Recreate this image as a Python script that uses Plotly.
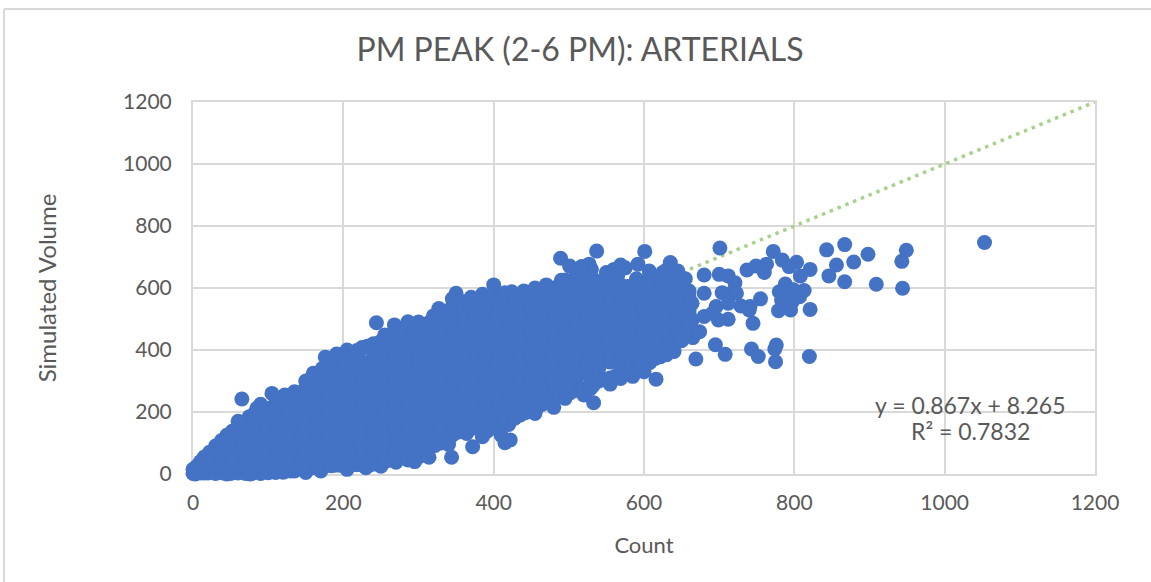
import plotly.graph_objects as go

# Dense cloud (Count value -> Simulated Volume values)
count_columns = [0, 15, 30, 45, 60, 75, 90, 105, 120, 135, 150, 165, 180, 195, 210, 225, 240, 255, 270, 285,
                 300, 315, 330, 345, 360, 375, 390, 405, 420, 435, 450, 465, 480, 495, 510, 525, 540, 555,
                 570, 585, 600, 615, 630, 645, 660]
volume_columns = [
    [2, 15],
    [3, 30, 55],
    [5, 45, 90],
    [3, 40, 78, 125],
    [5, 38, 76, 114, 150],
    [4, 38, 76, 114, 152, 185],
    [5, 38, 76, 114, 152, 190, 205],
    [8, 19, 57, 95, 133, 171, 215],
    [6, 38, 76, 114, 152, 190, 235],
    [10, 19, 57, 95, 133, 171, 209, 250],
    [18, 38, 76, 114, 152, 190, 228, 280],
    [20, 57, 95, 133, 171, 209, 247, 285, 320],
    [28, 38, 76, 114, 152, 190, 228, 266, 304, 355],
    [28, 57, 95, 133, 171, 209, 247, 285, 323, 375],
    [30, 38, 76, 114, 152, 190, 228, 266, 304, 342, 390],
    [30, 57, 95, 133, 171, 209, 247, 285, 323, 361, 405],
    [32, 38, 76, 114, 152, 190, 228, 266, 304, 342, 380, 420],
    [40, 57, 95, 133, 171, 209, 247, 285, 323, 361, 399, 430],
    [50, 76, 114, 152, 190, 228, 266, 304, 342, 380, 418, 445],
    [62, 95, 133, 171, 209, 247, 285, 323, 361, 399, 437, 460],
    [80, 114, 152, 190, 228, 266, 304, 342, 380, 418, 456, 475],
    [85, 95, 133, 171, 209, 247, 285, 323, 361, 399, 437, 475, 490],
    [100, 114, 152, 190, 228, 266, 304, 342, 380, 418, 456, 494, 510],
    [125, 133, 171, 209, 247, 285, 323, 361, 399, 437, 475, 513, 540],
    [145, 152, 190, 228, 266, 304, 342, 380, 418, 456, 494, 532, 555],
    [148, 171, 209, 247, 285, 323, 361, 399, 437, 475, 513, 551, 560],
    [150, 190, 228, 266, 304, 342, 380, 418, 456, 494, 532, 565],
    [155, 171, 209, 247, 285, 323, 361, 399, 437, 475, 513, 551, 575],
    [160, 190, 228, 266, 304, 342, 380, 418, 456, 494, 532, 565],
    [190, 209, 247, 285, 323, 361, 399, 437, 475, 513, 551, 570],
    [205, 228, 266, 304, 342, 380, 418, 456, 494, 532, 570, 580],
    [225, 247, 285, 323, 361, 399, 437, 475, 513, 551, 590],
    [245, 266, 304, 342, 380, 418, 456, 494, 532, 570, 600],
    [260, 285, 323, 361, 399, 437, 475, 513, 551, 589, 610],
    [270, 304, 342, 380, 418, 456, 494, 532, 570, 608, 630],
    [280, 323, 361, 399, 437, 475, 513, 551, 589, 627, 640],
    [300, 342, 380, 418, 456, 494, 532, 570, 608, 620],
    [310, 361, 399, 437, 475, 513, 551, 589, 610],
    [320, 342, 380, 418, 456, 494, 532, 570, 608],
    [335, 361, 399, 437, 475, 513, 551, 589, 600],
    [345, 380, 418, 456, 494, 532, 570, 608, 620],
    [375, 399, 437, 475, 513, 551, 589, 620],
    [385, 418, 456, 494, 532, 570, 608, 620],
    [440, 475, 513, 551, 589, 610],
    [480, 494, 532, 570, 590],
]

# Upper and lower rim of the cloud
upper_rim_count = [5, 10, 22, 38, 52, 68, 82, 98, 112, 128, 142, 158, 172, 188, 202, 218, 232, 248, 262, 278,
                   292, 308, 322, 338, 352, 368, 382, 398, 412, 428, 442, 458, 472, 488, 502, 518, 532, 548,
                   562, 578, 592, 608, 622, 638, 652]
upper_rim_volume = [25, 40, 70, 108, 138, 165, 195, 210, 225, 243, 262, 300, 340, 365, 385, 398, 412, 425, 438,
                    452, 468, 482, 500, 525, 550, 558, 563, 570, 570, 568, 575, 585, 595, 605, 620, 635, 630,
                    615, 610, 605, 610, 620, 620, 615, 600]
lower_rim_count = [20, 30, 40, 50, 60, 70, 80, 90, 100, 110, 130, 158, 172, 188, 202, 218, 232, 248, 262, 278,
                   292, 308, 322, 338, 352, 368, 382, 398, 412, 428, 442, 458, 472, 488, 502, 518, 532, 548,
                   562, 578, 592, 608, 622, 638, 652]
lower_rim_volume = [3, 2, 3, 2, 3, 2, 3, 2, 4, 5, 10, 20, 25, 28, 30, 30, 32, 36, 45, 55, 70, 85, 92, 112, 135,
                    146, 150, 152, 158, 180, 198, 215, 235, 252, 262, 272, 285, 305, 315, 328, 340, 360, 378,
                    410, 445]

# Extra points in the low end of the cloud
low_end_count = [8, 22, 38, 38, 52, 52, 52, 68, 68, 68, 68, 82, 82, 82, 82, 82, 98, 98, 98, 98, 98,
                 112, 112, 112, 112, 112, 128, 128, 128, 128, 128, 128]
low_end_volume = [10, 25, 20, 60, 25, 65, 100, 20, 60, 100, 135, 22, 60, 98, 135, 170, 25, 62, 100, 138, 175,
                  28, 65, 105, 145, 185, 25, 65, 105, 145, 185, 220]

# Points making the bumps along the top of the cloud
top_bump_count = [60, 90, 135, 150, 160, 172, 158, 188, 172, 202, 218, 205, 225, 255, 275, 300, 320, 345, 370,
                  385, 415, 440, 455, 470, 490, 510, 525, 550, 565, 575, 590, 610, 625, 640, 655, 645, 560,
                  530, 470]
top_bump_volume = [170, 225, 265, 300, 325, 300, 262, 330, 320, 350, 365, 400, 408, 448, 470, 490, 510, 565,
                   570, 580, 585, 590, 600, 610, 625, 640, 655, 650, 640, 665, 630, 640, 650, 640, 630, 655,
                   660, 660, 595]

# Points making the bumps along the bottom of the cloud
bottom_bump_count = [150, 170, 205, 230, 250, 270, 300, 340, 385, 410, 455, 480, 520, 555, 585, 600, 640, 660,
                     665, 650, 660]
bottom_bump_volume = [5, 10, 15, 20, 25, 38, 55, 95, 120, 125, 195, 215, 255, 290, 315, 330, 395, 470, 440, 430,
                      520]

# Points standing clear of the cloud
outlier_count = [489, 501, 537, 527, 517, 601, 592, 607, 635, 630, 569, 495, 701, 680, 700, 712, 721, 737,
                 749, 763, 760, 772, 784, 793, 803, 821, 808, 843, 867, 856, 846, 879, 898, 867, 909, 943,
                 949, 944, 1053, 788, 780, 813, 799, 788, 807, 797, 783, 779, 795, 821, 755, 741, 745, 716,
                 704, 729, 723, 680, 664, 712, 699, 674, 653, 632, 615, 596, 616, 569, 669, 695, 708, 743,
                 752, 776, 774, 775, 820, 740, 696, 712, 680, 664, 691, 65, 105, 122, 85, 176, 191, 244, 268,
                 286, 327, 350, 400, 424, 255, 286, 295, 314, 344, 372, 415, 422, 439, 451, 495, 533, 529,
                 569, 364, 391, 407, 235, 204, 184, 145, 122, 93, 76, 45, 3, 10, 20]
outlier_volume = [696, 671, 719, 677, 669, 718, 677, 655, 682, 658, 674, 626, 729, 642, 644, 639, 617, 658,
                  671, 677, 650, 718, 690, 669, 683, 660, 639, 723, 740, 674, 639, 684, 709, 620, 612, 686,
                  722, 599, 747, 613, 588, 592, 594, 578, 572, 556, 561, 527, 529, 531, 565, 540, 486, 583,
                  585, 542, 583, 583, 551, 499, 497, 459, 445, 413, 373, 346, 306, 312, 371, 417, 386, 403,
                  379, 416, 403, 362, 379, 529, 540, 551, 508, 497, 518, 242, 260, 255, 212, 377, 387, 488, 481,
                  491, 534, 583, 610, 588, 40, 45, 40, 54, 54, 88, 101, 110, 196, 201, 244, 230, 276,
                  308, 131, 137, 142, 29, 29, 27, 19, 8, 8, 0, 0, 0, 3, 5]

trend_count = [0, 1200]
trend_volume = [0, 1200]

x_ticks = [0, 200, 400, 600, 800, 1000, 1200]
y_ticks = [0, 200, 400, 600, 800, 1000, 1200]
tick_labels = ["0", "200", "400", "600", "800", "1000", "1200"]

title_text = "PM PEAK (2-6 PM): ARTERIALS"
equation_line = "y = 0.867x + 8.265"
r_squared_line = "R² = 0.7832"

cloud_x = [c for c, vols in zip(count_columns, volume_columns, strict=True) for _ in vols]
cloud_y = [v for vols in volume_columns for v in vols]
all_x = cloud_x + upper_rim_count + lower_rim_count + low_end_count + top_bump_count + bottom_bump_count + outlier_count
all_y = cloud_y + upper_rim_volume + lower_rim_volume + low_end_volume + top_bump_volume + bottom_bump_volume + outlier_volume

FONT = "Lato"
TEXT = "#595959"
GRID = "#D9D9D9"

fig = go.Figure()
fig.add_trace(go.Scatter(x=trend_count, y=trend_volume, mode="lines", showlegend=False, hoverinfo="skip",
                         line=dict(color="#A9D18E", width=3.5, dash="3.5px,4.9px")))
fig.add_trace(go.Scatter(x=all_x, y=all_y, mode="markers", showlegend=False, cliponaxis=False,
                         marker=dict(color="#4472C4", size=15, line=dict(width=0))))

axis = dict(range=[0, 1200], tickmode="array", showgrid=True, gridcolor=GRID, gridwidth=2,
            showline=True, linecolor=GRID, linewidth=2, mirror=True, zeroline=False, ticks="",
            layer="below traces", tickfont=dict(family=FONT, size=21, color=TEXT))
fig.update_layout(
    width=1151, height=582, margin=dict(l=193, r=56, t=102, b=108),
    paper_bgcolor="white", plot_bgcolor="white", font=dict(family=FONT, color=TEXT),
    title=dict(text=title_text, x=580 / 1151, xanchor="center", y=1 - 50 / 582, yanchor="middle",
               font=dict(family=FONT, size=32, color=TEXT)),
    xaxis=dict(axis, tickvals=x_ticks, ticktext=tick_labels, ticklabelstandoff=9,
               title=dict(text="Count", standoff=24, font=dict(family=FONT, size=22, color=TEXT))),
    yaxis=dict(axis, tickvals=y_ticks, ticktext=tick_labels, ticklabelstandoff=15,
               title=dict(text="Simulated Volume", standoff=60, font=dict(family=FONT, size=24, color=TEXT))),
    annotations=[
        dict(text=equation_line, xref="x", yref="y", x=1035, y=222, xanchor="center", yanchor="middle",
             showarrow=False, font=dict(family=FONT, size=23, color=TEXT)),
        dict(text=r_squared_line, xref="x", yref="y", x=1035, y=139, xanchor="center", yanchor="middle",
             showarrow=False, font=dict(family=FONT, size=23, color=TEXT)),
    ],
    shapes=[
        dict(type="line", xref="paper", yref="paper", x0=-189 / 902, x1=1 + 56 / 902, y0=(474 - 9) / 372, y1=(474 - 9) / 372,
             line=dict(color=GRID, width=2)),
        dict(type="line", xref="paper", yref="paper", x0=-189 / 902, x1=-189 / 902, y0=-108 / 372, y1=(474 - 9) / 372,
             line=dict(color=GRID, width=2)),
    ],
)
fig.write_html("out.html", post_script="document.body.style.margin='0';", config={"displayModeBar": False})
